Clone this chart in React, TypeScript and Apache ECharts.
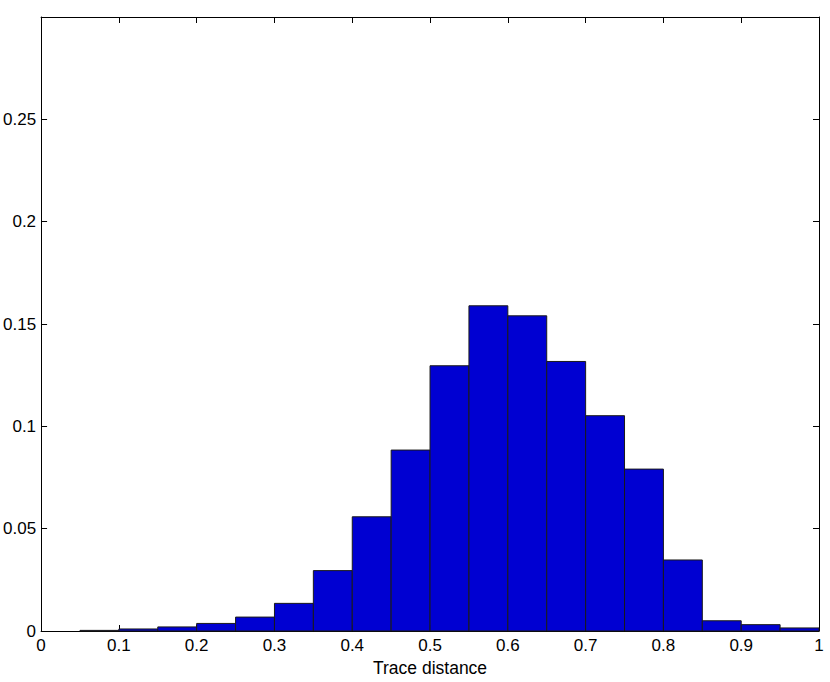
import React, { useEffect, useRef } from "react";
import * as echarts from "echarts";

const binStarts = [0.05, 0.1, 0.15, 0.2, 0.25, 0.3, 0.35, 0.4, 0.45, 0.5, 0.55, 0.6, 0.65, 0.7, 0.75, 0.8, 0.85, 0.9, 0.95];
const binWidth = 0.05;
const frequencies = [0.0003, 0.001, 0.002, 0.0037, 0.0068, 0.0135, 0.0295, 0.0558, 0.0884, 0.1296, 0.1589, 0.154, 0.1317, 0.1052, 0.0791, 0.0347, 0.005, 0.0031, 0.0015];
const xTickLabels = ["0", "0.1", "0.2", "0.3", "0.4", "0.5", "0.6", "0.7", "0.8", "0.9", "1"];
const yTickLabels = ["0", "0.05", "0.1", "0.15", "0.2", "0.25"];
const xLabel = "Trace distance";

export default function App() {
  const ref = useRef<HTMLDivElement>(null);
  useEffect(() => {
    if (!ref.current) return;
    const chart = echarts.init(ref.current, null, { renderer: "svg" });
    const font = "Liberation Sans";
    const fmtX = (v: number) => {
      const idx = Math.round(v * 10);
      return Math.abs(v * 10 - idx) < 1e-6 && idx >= 0 && idx < xTickLabels.length ? xTickLabels[idx] : "";
    };
    const fmtY = (v: number) => {
      const idx = Math.round(v / 0.05);
      return Math.abs(v / 0.05 - idx) < 1e-6 && idx >= 0 && idx < yTickLabels.length ? yTickLabels[idx] : "";
    };
    const data = binStarts.map((s, i) => [s, s + binWidth, frequencies[i]]);
    chart.setOption({
      animation: false,
      backgroundColor: "#ffffff",
      grid: { left: 39, right: 11, top: 17, bottom: 51, containLabel: false },
      xAxis: [
        {
          type: "value",
          position: "bottom",
          min: 0,
          max: 1,
          interval: 0.1,
          name: xLabel,
          nameLocation: "middle",
          nameGap: 26,
          nameTextStyle: { fontFamily: font, fontSize: 17.5, color: "#000" },
          axisLine: { show: true, onZero: false, lineStyle: { color: "#000", width: 1 } },
          axisTick: { show: true, inside: true, length: 6, lineStyle: { color: "#000" } },
          axisLabel: { fontFamily: font, fontSize: 17, color: "#000", margin: 6, formatter: fmtX },
          splitLine: { show: false },
        },
        {
          type: "value",
          position: "top",
          min: 0,
          max: 1,
          interval: 0.1,
          axisLine: { show: true, onZero: false, lineStyle: { color: "#000", width: 1 } },
          axisTick: { show: true, inside: true, length: 6, lineStyle: { color: "#000" } },
          axisLabel: { show: false },
          splitLine: { show: false },
        },
      ],
      yAxis: [
        {
          type: "value",
          position: "left",
          min: 0,
          max: 0.3,
          interval: 0.05,
          axisLine: { show: true, onZero: false, lineStyle: { color: "#000", width: 1 } },
          axisTick: { show: true, inside: true, length: 6, lineStyle: { color: "#000" } },
          axisLabel: { fontFamily: font, fontSize: 17, color: "#000", margin: 5, formatter: fmtY, showMaxLabel: false },
          splitLine: { show: false },
        },
        {
          type: "value",
          position: "right",
          min: 0,
          max: 0.3,
          interval: 0.05,
          axisLine: { show: true, onZero: false, lineStyle: { color: "#000", width: 1 } },
          axisTick: { show: true, inside: true, length: 6, lineStyle: { color: "#000" } },
          axisLabel: { show: false },
          splitLine: { show: false },
        },
      ],
      series: [
        {
          type: "custom",
          xAxisIndex: 0,
          yAxisIndex: 0,
          data,
          renderItem: (params: any, api: any) => {
            const x0 = api.value(0);
            const x1 = api.value(1);
            const y = api.value(2);
            const p0 = api.coord([x0, y]);
            const p1 = api.coord([x1, 0]);
            return {
              type: "rect",
              shape: { x: p0[0], y: p0[1], width: p1[0] - p0[0], height: p1[1] - p0[1] },
              style: { fill: "#0000d2", stroke: "#1a1a1a", lineWidth: 1 },
            };
          },
        },
      ],
    });
    return () => chart.dispose();
  }, []);
  return (
    <div
      ref={ref}
      style={{ position: "absolute", left: 0, top: 0, width: 830, height: 682 }}
    />
  );
}
